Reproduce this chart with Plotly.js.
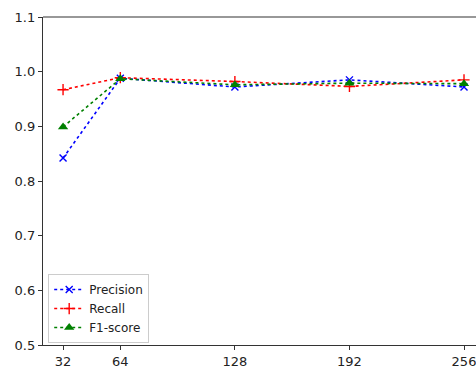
<!DOCTYPE html>
<html>
<head>
<meta charset="utf-8">
<script src="https://cdn.plot.ly/plotly-3.0.1.min.js"></script>
<style>html,body{margin:0;padding:0;background:#fff;}#chart{width:476px;height:368px;}</style>
</head>
<body>
<div id="chart"></div>
<script>
const batchSizes = [32, 64, 128, 192, 256];
const precision = [0.842, 0.988, 0.972, 0.985, 0.972];
const recall = [0.967, 0.989, 0.982, 0.973, 0.985];
const f1score = [0.899, 0.987, 0.976, 0.979, 0.978];
const yTicks = [0.5, 0.6, 0.7, 0.8, 0.9, 1.0, 1.1];
const yTickText = ['0.5', '0.6', '0.7', '0.8', '0.9', '1.0', '1.1'];

const traces = [
  {x: batchSizes, y: precision, name: 'Precision', mode: 'lines+markers', type: 'scatter', cliponaxis: false,
   line: {color: '#0000ff', dash: 'dot', width: 1.6},
   marker: {symbol: 'x-thin-open', size: 7, color: '#0000ff', line: {color: '#0000ff', width: 1.4}}},
  {x: batchSizes, y: recall, name: 'Recall', mode: 'lines+markers', type: 'scatter', cliponaxis: false,
   line: {color: '#ff0000', dash: 'dot', width: 1.6},
   marker: {symbol: 'cross-thin-open', size: 8, color: '#ff0000', line: {color: '#ff0000', width: 1.4}}},
  {x: batchSizes, y: f1score, name: 'F1-score', mode: 'lines+markers', type: 'scatter', cliponaxis: false,
   line: {color: '#008000', dash: 'dot', width: 1.6},
   marker: {symbol: 'triangle-up', size: 9, color: '#008000'}}
];

const layout = {
  width: 476, height: 368,
  margin: {l: 43, r: 0, t: 17, b: 23},
  paper_bgcolor: '#fff', plot_bgcolor: '#fff',
  font: {family: 'DejaVu Sans', size: 13, color: '#222'},
  showlegend: true,
  legend: {x: 0.012, y: 0.006, xanchor: 'left', yanchor: 'bottom',
           bgcolor: 'rgba(255,255,255,0.85)', bordercolor: '#cccccc', borderwidth: 1,
           font: {family: 'DejaVu Sans', size: 12, color: '#222'}, tracegroupgap: 0, itemwidth: 30},
  xaxis: {range: [20.8, 262.7], tickmode: 'array', tickvals: batchSizes, ticktext: batchSizes.map(String),
          showgrid: false, zeroline: false, showline: true, linecolor: '#333', linewidth: 1.2,
          ticks: 'outside', ticklen: 4, tickcolor: '#333', tickwidth: 1, tickfont: {size: 13},
          ticklabeloverflow: 'allow'},
  yaxis: {range: [0.5, 1.1], tickmode: 'array', tickvals: yTicks, ticktext: yTickText,
          showgrid: false, zeroline: false, showline: true, linecolor: '#333', linewidth: 1.2,
          ticks: 'outside', ticklen: 4, tickcolor: '#333', tickwidth: 1, tickfont: {size: 13},
          ticklabeloverflow: 'allow'},
  shapes: [{type: 'line', xref: 'paper', yref: 'paper', x0: 0, x1: 1, y0: 1, y1: 1,
            line: {color: '#333', width: 1.2}}]
};

Plotly.newPlot('chart', traces, layout, {displayModeBar: false, staticPlot: true});
</script>
</body>
</html>
